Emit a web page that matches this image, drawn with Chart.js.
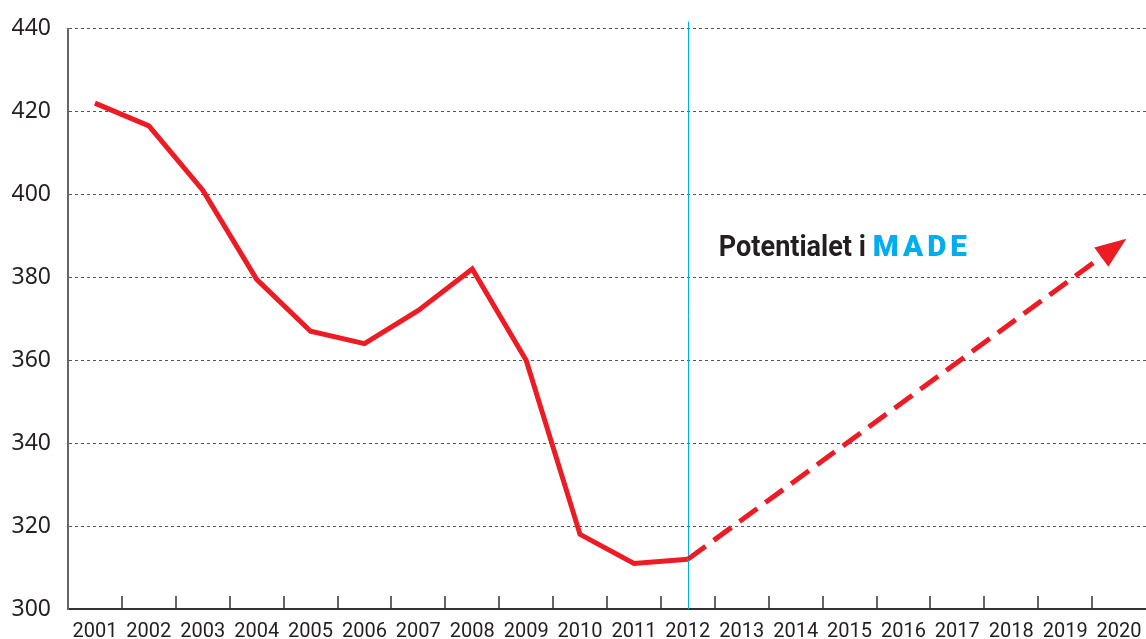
<!DOCTYPE html>
<html>
<head>
<meta charset="utf-8">
<script src="https://cdn.jsdelivr.net/npm/chart.js@4"></script>
<style>
  html, body { margin: 0; padding: 0; background: #fff; }
  #wrap { width: 1146px; height: 639px; position: relative; }
</style>
</head>
<body>
<div id="wrap"><canvas id="chart"></canvas></div>
<script>
const years = ['2001','2002','2003','2004','2005','2006','2007','2008','2009','2010',
               '2011','2012','2013','2014','2015','2016','2017','2018','2019','2020'];
const actual = [422, 416.5, 401, 379.5, 367, 364, 372, 382, 360, 318,
                311, 312, null, null, null, null, null, null, null, null];
const potential = [null, null, null, null, null, null, null, null, null, null,
                   null, 312, null, null, null, null, null, null, null, 388];
const yTicks = [300, 320, 340, 360, 380, 400, 420, 440];
const splitYear = '2012';
const noteText = 'Potentialet i';
const noteBrand = 'MADE';

const RED = '#ed1c24';
const DARK = '#231f20';
const CYAN = '#00aeef';

// short upward ticks between categories + the blue split line
const axisDecor = {
  id: 'axisDecor',
  beforeDatasetsDraw(chart) {
    const { ctx, chartArea, scales: { x } } = chart;
    const sx = Math.round(x.getPixelForValue(years.indexOf(splitYear))) + 0.5;
    ctx.save();
    ctx.strokeStyle = CYAN;
    ctx.lineWidth = 1;
    ctx.beginPath();
    ctx.moveTo(sx, chartArea.top - 7);
    ctx.lineTo(sx, chartArea.bottom);
    ctx.stroke();
    ctx.restore();
  },
  afterDraw(chart) {
    const { ctx, chartArea, scales: { x } } = chart;
    ctx.save();
    ctx.strokeStyle = '#333';
    ctx.lineWidth = 1.5;
    for (let i = 1; i < years.length; i++) {
      const px = Math.round((x.getPixelForValue(i - 1) + x.getPixelForValue(i)) / 2);
      ctx.beginPath();
      ctx.moveTo(px, chartArea.bottom - 13);
      ctx.lineTo(px, chartArea.bottom);
      ctx.stroke();
    }
    ctx.restore();
  }
};

// squeeze text horizontally to a target width (the original font is condensed)
function fillFit(ctx, text, x, y, targetW) {
  const w = ctx.measureText(text).width;
  ctx.save();
  ctx.translate(x, y);
  ctx.scale(targetW / w, 1);
  ctx.fillText(text, 0, 0);
  ctx.restore();
}

// arrow head on the projection + label
const arrowNote = {
  id: 'arrowNote',
  afterDatasetsDraw(chart) {
    const { ctx, scales: { x, y } } = chart;
    const pts = chart.getDatasetMeta(1).data.filter((p, i) => potential[i] !== null);
    const a = pts[0], b = pts[pts.length - 1];
    const dx = b.x - a.x, dy = b.y - a.y;
    const len = Math.hypot(dx, dy);
    const ux = dx / len, uy = dy / len;
    const tipX = b.x + ux * 9, tipY = b.y + uy * 9;
    const bx = tipX - ux * 31, by = tipY - uy * 31;
    ctx.save();
    ctx.fillStyle = RED;
    ctx.beginPath();
    ctx.moveTo(tipX, tipY);
    ctx.lineTo(bx - uy * 12, by + ux * 12);
    ctx.lineTo(bx + uy * 12, by - ux * 12);
    ctx.closePath();
    ctx.fill();

    const tx = x.getPixelForValue(years.indexOf(splitYear)) + 31;
    const ty = y.getPixelForValue(385.2);
    ctx.textBaseline = 'alphabetic';
    ctx.fillStyle = DARK;
    ctx.font = 'bold 30px Roboto, "Noto Sans", sans-serif';
    fillFit(ctx, noteText, tx, ty, 147);
    ctx.fillStyle = CYAN;
    ctx.font = '900 30px Roboto, "Noto Sans", sans-serif';
    ctx.letterSpacing = '4px';
    fillFit(ctx, noteBrand, tx + 154, ty, 98);
    ctx.restore();
  }
};

new Chart(document.getElementById('chart'), {
  type: 'line',
  data: {
    labels: years,
    datasets: [
      { data: actual, borderColor: RED, borderWidth: 5, pointRadius: 0,
        tension: 0, borderJoinStyle: 'miter', borderCapStyle: 'butt' },
      { data: potential, borderColor: RED, borderWidth: 5, pointRadius: 0,
        tension: 0, spanGaps: true, borderDash: [22, 10], borderCapStyle: 'butt' }
    ]
  },
  options: {
    responsive: true,
    maintainAspectRatio: false,
    animation: false,
    layout: { padding: { top: 27, left: 0, right: -4, bottom: 0 } },
    plugins: { legend: { display: false }, tooltip: { enabled: false }, title: { display: false } },
    scales: {
      x: {
        offset: true,
        grid: { display: false },
        border: { display: true, color: '#333', width: 2 },
        ticks: {
          color: DARK, padding: 3, maxRotation: 0, autoSkip: false,
          font: { family: 'Roboto, "Noto Sans", sans-serif', size: 20 }
        },
        afterFit(s) { s.height = 30; }
      },
      y: {
        min: 300, max: 440,
        afterBuildTicks(s) { s.ticks = yTicks.map(v => ({ value: v })); },
        grid: { color: '#555', lineWidth: 1, drawTicks: false },
        border: { display: true, color: '#666', width: 2, dash: [3, 3] },
        ticks: {
          color: DARK, padding: 17,
          font: { family: '"Noto Sans", sans-serif', size: 23, lineHeight: 1 }
        },
        afterFit(s) { s.width = 68; }
      }
    }
  },
  plugins: [axisDecor, arrowNote]
});
</script>
</body>
</html>
